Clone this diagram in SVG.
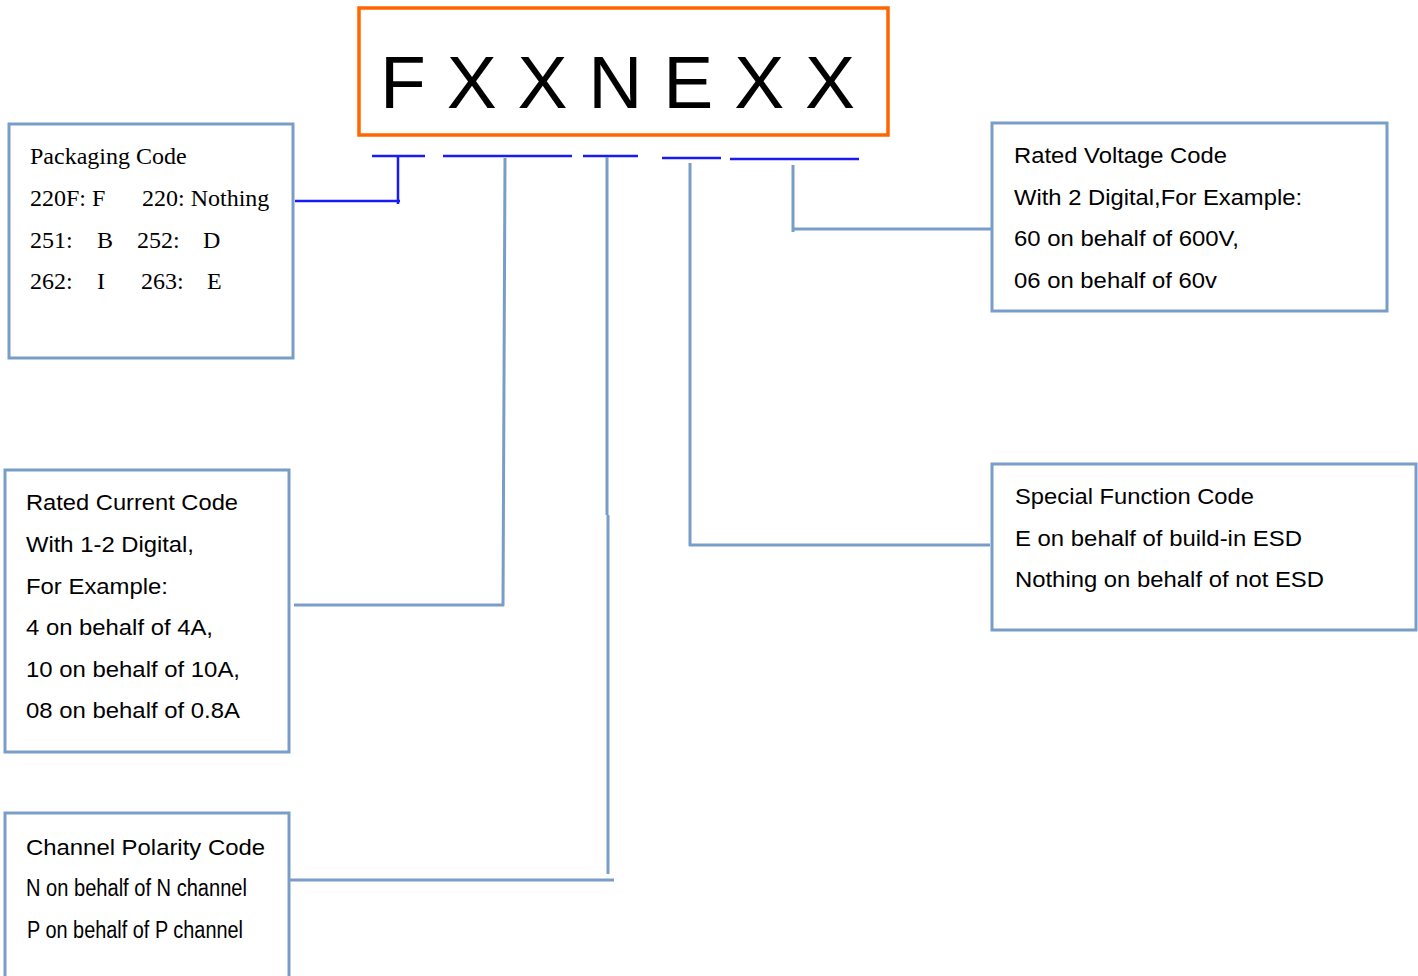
<svg xmlns="http://www.w3.org/2000/svg" width="1418" height="976" viewBox="0 0 1418 976">
<style>
.box{fill:#fff;stroke:#789EC7;stroke-width:3}
.title{fill:#fff;stroke:#FF6600;stroke-width:3.5}
.conn{fill:none;stroke:#789EC7;stroke-width:3}
.ul{fill:none;stroke:#1A1AF5;stroke-width:2.5}
.sans{font-family:"Liberation Sans",Arial,sans-serif;font-size:21.5px;fill:#000}
.cond{font-size:23px}
.serif{font-family:"Liberation Serif","Times New Roman",serif;font-size:24px;fill:#000}
.big{font-family:"Liberation Sans",Arial,sans-serif;font-size:75px;fill:#000}
</style>
<rect width="1418" height="976" fill="#fff"/>

<g id="title">
<rect class="title" x="359" y="8" width="529" height="127"/>
<text class="big" x="380" y="108" xml:space="preserve">F X X N E X X</text>
</g>

<g id="connectors">
<path class="ul" d="M372,156H425M443,156H572M583,156H638M662,158H721M730,159H859"/>
<path class="ul" d="M398,156V204M295,201H400"/>
<path class="conn" d="M505,158L503,606M294,605H504"/>
<path class="conn" d="M607,157V515M608,515V874M290,880H614"/>
<path class="conn" d="M690,163V546M689,545H990"/>
<path class="conn" d="M793,165V232M792,229H992"/>
</g>

<g id="packaging">
<rect class="box" x="9" y="124" width="284" height="234"/>
<text class="serif" x="30" y="164">Packaging Code</text>
<text class="serif" x="30" y="206">220F: F</text>
<text class="serif" x="142" y="206">220: Nothing</text>
<text class="serif" x="30" y="248">251:</text>
<text class="serif" x="97" y="248">B</text>
<text class="serif" x="137" y="248">252:</text>
<text class="serif" x="203" y="248">D</text>
<text class="serif" x="30" y="289">262:</text>
<text class="serif" x="97" y="289">I</text>
<text class="serif" x="141" y="289">263:</text>
<text class="serif" x="207" y="289">E</text>
</g>

<g id="rated-voltage">
<rect class="box" x="992" y="123" width="395" height="188"/>
<text class="sans" x="1014" y="163" textLength="213" lengthAdjust="spacingAndGlyphs">Rated Voltage Code</text>
<text class="sans" x="1014" y="205" textLength="288" lengthAdjust="spacingAndGlyphs">With 2 Digital,For Example:</text>
<text class="sans" x="1014" y="246" textLength="225" lengthAdjust="spacingAndGlyphs">60 on behalf of 600V,</text>
<text class="sans" x="1014" y="288" textLength="203" lengthAdjust="spacingAndGlyphs">06 on behalf of 60v</text>
</g>

<g id="special-function">
<rect class="box" x="992" y="464" width="424" height="166"/>
<text class="sans" x="1015" y="504" textLength="239" lengthAdjust="spacingAndGlyphs">Special Function Code</text>
<text class="sans" x="1015" y="546" textLength="287" lengthAdjust="spacingAndGlyphs">E on behalf of build-in ESD</text>
<text class="sans" x="1015" y="587" textLength="309" lengthAdjust="spacingAndGlyphs">Nothing on behalf of not ESD</text>
</g>

<g id="rated-current">
<rect class="box" x="5" y="470" width="284" height="282"/>
<text class="sans" x="26" y="510" textLength="212" lengthAdjust="spacingAndGlyphs">Rated Current Code</text>
<text class="sans" x="26" y="552" textLength="168" lengthAdjust="spacingAndGlyphs">With 1-2 Digital,</text>
<text class="sans" x="26" y="594" textLength="142" lengthAdjust="spacingAndGlyphs">For Example:</text>
<text class="sans" x="26" y="635" textLength="187" lengthAdjust="spacingAndGlyphs">4 on behalf of 4A,</text>
<text class="sans" x="26" y="677" textLength="214" lengthAdjust="spacingAndGlyphs">10 on behalf of 10A,</text>
<text class="sans" x="26" y="718" textLength="214" lengthAdjust="spacingAndGlyphs">08 on behalf of 0.8A</text>
</g>

<g id="channel-polarity">
<rect class="box" x="5" y="813" width="284" height="175"/>
<text class="sans" x="26" y="855" textLength="239" lengthAdjust="spacingAndGlyphs">Channel Polarity Code</text>
<text class="sans cond" x="26" y="896" textLength="221" lengthAdjust="spacingAndGlyphs">N on behalf of N channel</text>
<text class="sans cond" x="27" y="938" textLength="216" lengthAdjust="spacingAndGlyphs">P on behalf of P channel</text>
</g>
</svg>
